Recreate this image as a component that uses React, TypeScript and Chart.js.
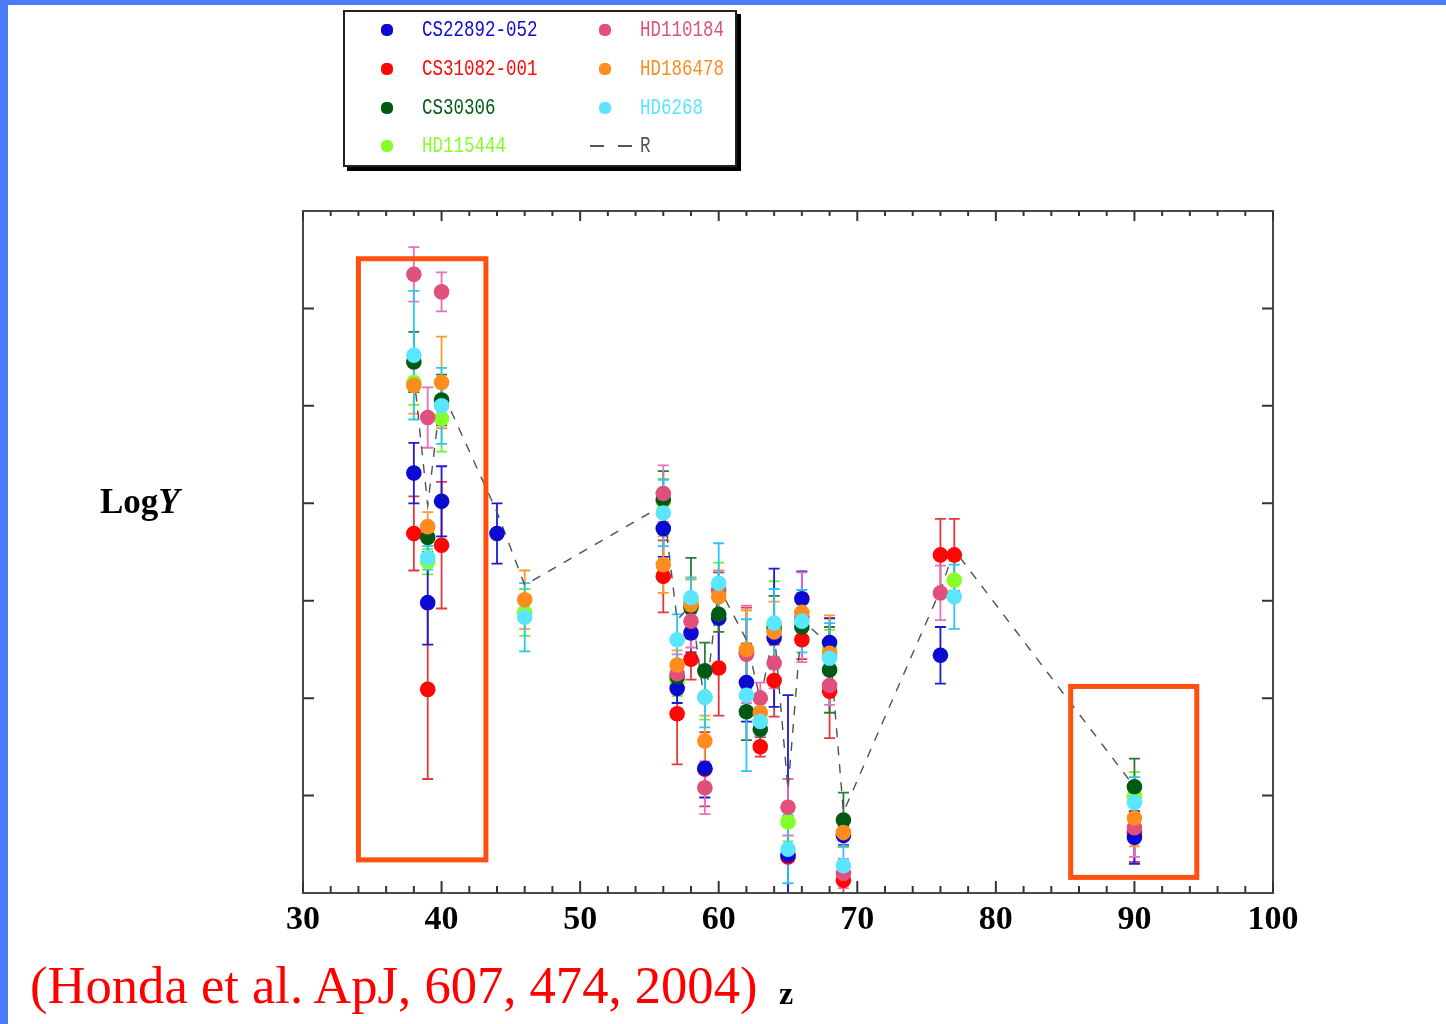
import React, { useEffect, useRef } from "react";
import { Chart, registerables } from "chart.js";

Chart.register(...registerables);

// Atomic numbers (x axis)
const Z = [38, 39, 40, 44, 46, 56, 57, 58, 59, 60, 62, 63, 64, 65, 66, 68, 69, 76, 77, 90];
const X_TICKS = [30, 40, 50, 60, 70, 80, 90, 100];

// log abundances (arbitrary units) and symmetric errors
const CS22892_052 = [4.31, 2.98, 4.02, 3.69, null, 3.74, 2.10, 2.67, 1.28, 2.82, 2.16, null, 2.62, 0.39, 3.02, 2.57, 0.59, 2.44, null, 0.57];
const CS22892_052_ERR = [0.31, 0.43, 0.36, 0.31, null, 0.29, 0.15, 0.20, 0.30, 0.47, 0.40, null, 0.71, 1.64, 0.28, 0.25, 0.10, 0.29, null, 0.27];

const CS31082_001 = [3.69, 2.09, 3.57, null, null, 3.25, 1.84, 2.40, 1.27, 2.31, 2.47, 1.50, 2.18, 0.37, 2.60, 2.07, 0.13, 3.47, 3.47, 0.62];
const CS31082_001_ERR = [0.38, 0.92, 0.65, null, null, 0.37, 0.52, 0.21, 0.38, 0.49, 0.46, 0.10, 0.37, 0.40, 0.20, 0.48, 0.20, 0.37, 0.37, 0.30];

const CS30306 = [5.45, 3.65, 5.06, null, null, 4.04, 2.22, 2.93, 2.28, 2.86, 1.86, 1.68, 2.72, null, 2.73, 2.29, 0.75, null, null, 1.09];
const CS30306_ERR = [0.31, 0.15, 0.26, null, null, 0.29, 0.15, 0.51, 0.29, 0.18, 0.29, 0.15, 0.33, null, 0.15, 0.44, 0.28, null, null, 0.29];

const HD115444 = [5.24, 3.40, 4.87, null, 2.88, 4.02, 2.17, 2.99, 2.01, 3.11, 2.47, 1.76, 2.75, 0.73, 2.80, 2.50, 0.62, null, 3.21, 0.99];
const HD115444_ERR = [0.23, 0.13, 0.34, null, 0.24, 0.23, 0.15, 0.23, 0.23, 0.28, 0.43, 0.15, 0.45, 0.20, 0.20, 0.20, 0.15, null, 0.20, 0.25];

const HD110184 = [6.35, 4.88, 6.17, null, null, 4.10, 2.25, 2.79, 1.08, 3.11, 2.45, 2.00, 2.36, 0.88, 2.83, 2.13, 0.20, 3.08, null, 0.67];
const HD110184_ERR = [0.28, 0.31, 0.20, null, null, 0.29, 0.20, 0.27, 0.27, 0.20, 0.50, 0.16, 0.26, 0.29, 0.46, 0.20, 0.15, 0.28, null, 0.30];

const HD186478 = [5.21, 3.76, 5.24, null, 3.01, 3.37, 2.34, 2.96, 1.56, 3.04, 2.50, 1.85, 2.68, null, 2.88, 2.46, 0.62, null, null, 0.77];
const HD186478_ERR = [0.29, 0.15, 0.47, null, 0.30, 0.29, 0.15, 0.26, 0.26, 0.26, 0.40, 0.15, 0.31, null, 0.20, 0.39, 0.15, null, null, 0.29];

const HD6268 = [5.52, 3.44, 5.00, null, 2.83, 3.90, 2.60, 3.03, 2.01, 3.18, 2.03, 1.76, 2.77, 0.45, 2.79, 2.41, 0.28, null, 3.04, 0.93];
const HD6268_ERR = [0.66, 0.12, 0.39, null, 0.35, 0.34, 0.26, 0.21, 0.31, 0.41, 0.78, 0.15, 0.35, 0.35, 0.32, 0.36, 0.20, null, 0.33, 0.26];

// Solar r-process pattern (dashed)
const R = [5.32, 3.98, 5.16, 3.91, 3.16, 3.98, 2.80, 2.96, 1.93, 3.14, 2.60, 1.98, 2.70, 1.06, 2.80, 2.55, 0.83, 3.11, 3.52, 1.09];

// Highlight boxes in data units: [xMin, xMax, yMin, yMax]
const LEFT_BOX = [34.0, 43.2, 0.34, 6.51];
const RIGHT_BOX = [85.4, 94.5, 0.16, 2.12];

const SERIES = [
  { name: "CS22892-052", y: CS22892_052, err: CS22892_052_ERR, color: "#0a0ad0", errColor: "#1a1ad8", order: 5 },
  { name: "CS31082-001", y: CS31082_001, err: CS31082_001_ERR, color: "#ff0505", errColor: "#e23a3a", order: 6 },
  { name: "CS30306", y: CS30306, err: CS30306_ERR, color: "#005a14", errColor: "#2a7a3a", order: 4 },
  { name: "HD115444", y: HD115444, err: HD115444_ERR, color: "#84ff28", errColor: "#70f030", order: 7 },
  { name: "HD110184", y: HD110184, err: HD110184_ERR, color: "#e0507d", errColor: "#e870c0", order: 3 },
  { name: "HD186478", y: HD186478, err: HD186478_ERR, color: "#ff8c1e", errColor: "#ff9a30", order: 2 },
  { name: "HD6268", y: HD6268, err: HD6268_ERR, color: "#5ae6ff", errColor: "#28c8f5", order: 1 },
];

const errorBarPlugin = {
  id: "errorBars",
  beforeDatasetsDraw(chart: any) {
    const { ctx, chartArea, scales } = chart;
    ctx.save();
    ctx.beginPath();
    ctx.rect(chartArea.left, chartArea.top, chartArea.right - chartArea.left, chartArea.bottom - chartArea.top);
    ctx.clip();
    const list = chart.data.datasets
      .filter((d: any) => d.errors)
      .slice()
      .sort((a: any, b: any) => b.order - a.order);
    for (const ds of list) {
      ctx.strokeStyle = ds.errColor;
      ctx.lineWidth = 1.8;
      ds.data.forEach((p: any, i: number) => {
        const e = ds.errors[i];
        if (p.y == null || e == null) return;
        const x = scales.x.getPixelForValue(p.x);
        const yTop = scales.y.getPixelForValue(p.y + e);
        const yBot = scales.y.getPixelForValue(p.y - e);
        ctx.beginPath();
        ctx.moveTo(x, yTop);
        ctx.lineTo(x, yBot);
        ctx.moveTo(x - 5.5, yTop);
        ctx.lineTo(x + 5.5, yTop);
        ctx.moveTo(x - 5.5, yBot);
        ctx.lineTo(x + 5.5, yBot);
        ctx.stroke();
      });
    }
    ctx.restore();
  },
};

const framePlugin = {
  id: "frame",
  afterDatasetsDraw(chart: any) {
    const { ctx, chartArea, scales } = chart;
    const { left, right, top, bottom } = chartArea;
    ctx.save();
    // highlight boxes
    ctx.strokeStyle = "#ff5010";
    ctx.lineWidth = 5;
    for (const b of [LEFT_BOX, RIGHT_BOX]) {
      const x0 = scales.x.getPixelForValue(b[0]);
      const x1 = scales.x.getPixelForValue(b[1]);
      const y0 = scales.y.getPixelForValue(b[3]);
      const y1 = scales.y.getPixelForValue(b[2]);
      ctx.strokeRect(x0, y0, x1 - x0, y1 - y0);
    }
    // frame
    ctx.strokeStyle = "#4a4a4a";
    ctx.lineWidth = 2;
    ctx.strokeRect(left, top, right - left, bottom - top);
    // ticks
    ctx.strokeStyle = "#333";
    ctx.lineWidth = 2;
    ctx.beginPath();
    for (let v = 30; v <= 100; v += 2) {
      const x = scales.x.getPixelForValue(v);
      const major = v % 10 === 0;
      ctx.moveTo(x, bottom);
      ctx.lineTo(x, bottom - (major ? 12 : 7));
      ctx.moveTo(x, top);
      ctx.lineTo(x, top + (major ? 10 : 5));
    }
    for (let v = 1; v <= 6; v += 1) {
      const y = scales.y.getPixelForValue(v);
      ctx.moveTo(left, y);
      ctx.lineTo(left + 11, y);
      ctx.moveTo(right, y);
      ctx.lineTo(right - 11, y);
    }
    ctx.stroke();
    ctx.restore();
  },
};

function ChartCanvas() {
  const ref = useRef<HTMLCanvasElement | null>(null);
  useEffect(() => {
    if (!ref.current) return;
    const datasets: any[] = SERIES.map((s) => ({
      type: "scatter",
      label: s.name,
      data: Z.map((z, i) => ({ x: z, y: s.y[i] })).filter((p) => p.y != null),
      errors: Z.map((_, i) => s.err[i]).filter((_, i) => s.y[i] != null),
      errColor: s.errColor,
      backgroundColor: s.color,
      borderColor: s.color,
      borderWidth: 0,
      pointStyle: "circle",
      pointRadius: 7.8,
      order: s.order,
    }));
    datasets.push({
      type: "line",
      label: "R",
      data: Z.map((z, i) => ({ x: z, y: R[i] })),
      borderColor: "#505050",
      borderWidth: 1.4,
      borderDash: [9, 9],
      pointRadius: 0,
      fill: false,
      tension: 0,
      order: 8,
    });
    const chart = new Chart(ref.current, {
      type: "scatter",
      data: { datasets },
      plugins: [errorBarPlugin, framePlugin],
      options: {
        responsive: false,
        animation: false,
        events: [],
        devicePixelRatio: 1,
        layout: { padding: { left: 303, right: 173, top: 211, bottom: 0 } },
        plugins: { legend: { display: false }, tooltip: { enabled: false } },
        scales: {
          x: {
            type: "linear",
            min: 30,
            max: 100,
            afterBuildTicks: (s: any) => {
              s.ticks = X_TICKS.map((v) => ({ value: v }));
            },
            afterFit: (s: any) => {
              s.height = 131;
            },
            grid: { display: false, drawTicks: false },
            border: { display: false },
            ticks: {
              autoSkip: false,
              maxRotation: 0,
              padding: 7,
              color: "#000",
              font: { family: "Liberation Serif", size: 34, weight: "bold" },
            },
          },
          y: {
            type: "linear",
            min: 0,
            max: 7,
            display: false,
          },
        },
      } as any,
    });
    return () => chart.destroy();
  }, []);
  return (
    <canvas
      ref={ref}
      width={1446}
      height={1024}
      style={{ position: "absolute", left: 0, top: 0, width: 1446, height: 1024 }}
    />
  );
}

const LEGEND_LEFT = ["CS22892-052", "CS31082-001", "CS30306", "HD115444"];
const LEGEND_RIGHT = ["HD110184", "HD186478", "HD6268"];
const LEGEND_ROWS = [30, 69, 108, 146];

function colorOf(name: string) {
  const s = SERIES.find((q) => q.name === name);
  return s ? s.color : "#555";
}

function LegendItem({ name, mx, tx, y }: { name: string; mx: number; tx: number; y: number }) {
  const c = colorOf(name);
  return (
    <>
      <div
        style={{
          position: "absolute",
          left: mx - 6,
          top: y - 6,
          width: 12,
          height: 12,
          borderRadius: 5,
          background: c,
        }}
      />
      <div
        style={{
          position: "absolute",
          left: tx,
          top: y - 12,
          height: 24,
          lineHeight: "24px",
          fontFamily: "Liberation Mono",
          fontSize: 17.5,
          color: c,
          transform: "scaleY(1.25)",
          transformOrigin: "left center",
          whiteSpace: "nowrap",
        }}
      >
        {name}
      </div>
    </>
  );
}

export default function App() {
  return (
    <div
      style={{
        position: "absolute",
        left: 0,
        top: 0,
        width: 1446,
        height: 1024,
        background: "#fff",
        overflow: "hidden",
      }}
    >
      <div style={{ position: "absolute", left: 0, top: 0, width: 1446, height: 5, background: "#4a7df8" }} />
      <div style={{ position: "absolute", left: 0, top: 0, width: 8, height: 1024, background: "#4a7df8" }} />
      <ChartCanvas />
      {/* legend box */}
      <div
        style={{
          position: "absolute",
          left: 343,
          top: 10,
          width: 390,
          height: 153,
          border: "2px solid #222",
          boxShadow: "4px 4px 0 #000",
          background: "transparent",
        }}
      />
      {LEGEND_LEFT.map((n, i) => (
        <LegendItem key={n} name={n} mx={387} tx={422} y={LEGEND_ROWS[i]} />
      ))}
      {LEGEND_RIGHT.map((n, i) => (
        <LegendItem key={n} name={n} mx={605} tx={640} y={LEGEND_ROWS[i]} />
      ))}
      <div style={{ position: "absolute", left: 590, top: 145, width: 14, height: 2, background: "#555" }} />
      <div style={{ position: "absolute", left: 618, top: 145, width: 14, height: 2, background: "#555" }} />
      <div
        style={{
          position: "absolute",
          left: 640,
          top: LEGEND_ROWS[3] - 12,
          height: 24,
          lineHeight: "24px",
          fontFamily: "Liberation Mono",
          fontSize: 17.5,
          color: "#555",
          transform: "scaleY(1.25)",
          transformOrigin: "left center",
        }}
      >
        R
      </div>
      {/* axis labels */}
      <div
        style={{
          position: "absolute",
          left: 100,
          top: 482,
          height: 40,
          lineHeight: "40px",
          fontFamily: "Liberation Serif",
          fontWeight: "bold",
          fontSize: 35,
          color: "#000",
          whiteSpace: "nowrap",
        }}
      >
        Log<span style={{ fontStyle: "italic" }}>Y</span>
      </div>
      <div
        style={{
          position: "absolute",
          left: 779,
          top: 973,
          height: 40,
          lineHeight: "40px",
          fontFamily: "Liberation Serif",
          fontWeight: "bold",
          fontSize: 32,
          color: "#000",
        }}
      >
        z
      </div>
      <div
        style={{
          position: "absolute",
          left: 30,
          top: 955,
          height: 60,
          lineHeight: "60px",
          fontFamily: "Liberation Serif",
          fontSize: 52.6,
          color: "#ff0000",
          whiteSpace: "nowrap",
        }}
      >
        (Honda et al. ApJ, 607, 474, 2004)
      </div>
    </div>
  );
}
